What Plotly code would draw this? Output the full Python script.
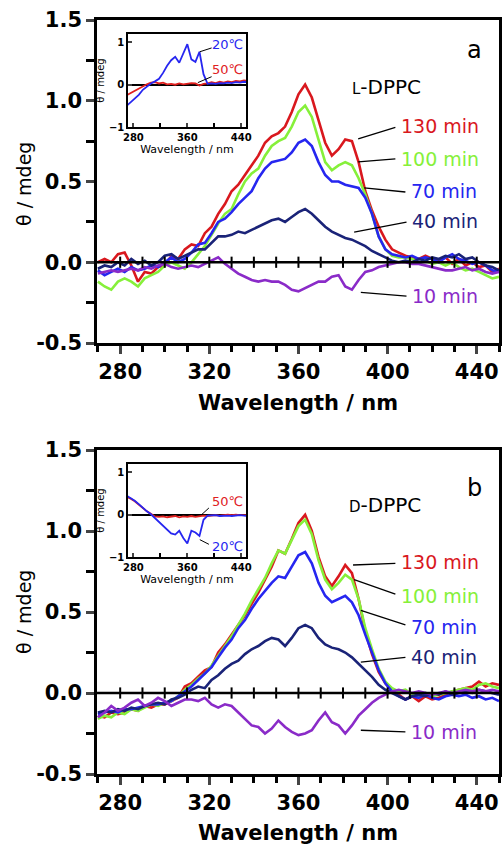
import plotly.graph_objects as go

# ---------------- data ----------------
WL = list(range(270, 451, 3))  # wavelength / nm (3 nm steps)

# Panel a (L-DPPC)
A_130 = [0.00, 0.02, 0.00, 0.05, 0.06, -0.02, -0.12, -0.06, -0.07, -0.03, -0.02, 0.04, 0.02, 0.08, 0.11, 0.10,
         0.18, 0.22, 0.30, 0.36, 0.44, 0.48, 0.54, 0.60, 0.66, 0.74, 0.78, 0.80, 0.84, 0.93, 1.04, 1.10, 1.02,
         0.88, 0.74, 0.66, 0.70, 0.76, 0.75, 0.62, 0.44, 0.32, 0.22, 0.14, 0.08, 0.06, 0.04, 0.03, 0.02, 0.04,
         0.02, 0.01, 0.03, -0.01, 0.02, -0.02, 0.00, -0.03, -0.02, -0.06, -0.04]
A_100 = [-0.12, -0.15, -0.17, -0.12, -0.10, -0.12, -0.15, -0.10, -0.08, -0.06, -0.02, 0.00, -0.02, -0.04, 0.00,
         0.05, 0.10, 0.17, 0.24, 0.30, 0.33, 0.42, 0.50, 0.55, 0.58, 0.66, 0.72, 0.75, 0.77, 0.84, 0.93, 0.97,
         0.90, 0.76, 0.62, 0.57, 0.60, 0.62, 0.60, 0.52, 0.42, 0.30, 0.16, 0.08, 0.04, 0.03, 0.03, 0.02, 0.00,
         0.01, -0.01, 0.00, -0.02, 0.00, -0.03, -0.05, -0.04, -0.06, -0.08, -0.10, -0.09]
A_70 = [-0.05, -0.08, -0.06, -0.04, -0.06, -0.03, -0.05, -0.04, -0.02, -0.03, 0.00, 0.03, 0.00, 0.02, 0.06,
        0.11, 0.12, 0.18, 0.25, 0.27, 0.31, 0.36, 0.40, 0.44, 0.52, 0.58, 0.62, 0.63, 0.64, 0.68, 0.74, 0.76,
        0.72, 0.62, 0.54, 0.50, 0.50, 0.48, 0.47, 0.46, 0.40, 0.30, 0.16, 0.08, 0.05, 0.04, 0.03, 0.04, 0.02,
        0.03, 0.02, 0.00, 0.03, 0.05, 0.02, 0.01, -0.01, 0.00, -0.02, -0.05, -0.06]
A_40 = [-0.04, -0.02, -0.03, 0.00, -0.02, 0.02, -0.01, 0.01, -0.02, 0.00, 0.04, 0.05, 0.02, 0.04, 0.06, 0.08,
        0.08, 0.12, 0.16, 0.16, 0.17, 0.19, 0.18, 0.20, 0.22, 0.24, 0.26, 0.27, 0.25, 0.28, 0.31, 0.33, 0.30,
        0.26, 0.22, 0.19, 0.17, 0.15, 0.14, 0.12, 0.10, 0.07, 0.05, 0.03, 0.01, 0.00, 0.01, 0.00, 0.02, 0.01,
        0.03, 0.02, 0.04, 0.03, 0.05, 0.02, 0.03, 0.00, -0.02, -0.03, -0.05]
A_10 = [-0.07, -0.06, -0.05, -0.06, -0.05, -0.04, -0.05, -0.03, -0.04, -0.02, -0.01, -0.03, -0.04, -0.03, -0.02,
        -0.03, -0.01, 0.01, 0.03, -0.01, -0.04, -0.07, -0.09, -0.11, -0.12, -0.11, -0.12, -0.12, -0.14, -0.17,
        -0.18, -0.16, -0.14, -0.12, -0.12, -0.09, -0.08, -0.15, -0.17, -0.11, -0.06, -0.05, -0.03, -0.02, -0.01,
        0.00, 0.00, -0.01, -0.01, -0.02, -0.03, -0.04, -0.05, -0.05, -0.04, -0.03, -0.05, -0.04, -0.06, -0.07, -0.06]

# Panel b (D-DPPC)
B_130 = [-0.14, -0.15, -0.12, -0.13, -0.12, -0.10, -0.11, -0.08, -0.09, -0.07, -0.07, -0.05, -0.03, 0.04, 0.06,
         0.10, 0.14, 0.16, 0.25, 0.30, 0.36, 0.42, 0.48, 0.55, 0.62, 0.70, 0.78, 0.88, 0.86, 0.95, 1.05, 1.10,
         1.00, 0.84, 0.72, 0.66, 0.72, 0.79, 0.74, 0.58, 0.38, 0.24, 0.13, 0.06, 0.01, -0.01, -0.04, -0.02, -0.05,
         -0.02, -0.04, -0.03, -0.01, 0.01, 0.02, 0.03, 0.04, 0.07, 0.04, 0.06, 0.05]
B_100 = [-0.16, -0.14, -0.15, -0.12, -0.13, -0.10, -0.11, -0.09, -0.07, -0.08, -0.06, -0.05, -0.02, 0.02, 0.05,
         0.09, 0.12, 0.17, 0.23, 0.29, 0.35, 0.42, 0.49, 0.57, 0.64, 0.71, 0.80, 0.88, 0.86, 0.94, 1.03, 1.07,
         0.98, 0.82, 0.70, 0.64, 0.68, 0.73, 0.70, 0.58, 0.40, 0.27, 0.15, 0.07, 0.03, 0.01, 0.02, -0.01, -0.02,
         0.00, -0.02, -0.01, 0.00, 0.01, 0.02, 0.03, 0.02, 0.05, 0.06, 0.04, 0.03]
B_70 = [-0.13, -0.12, -0.11, -0.12, -0.10, -0.10, -0.09, -0.08, -0.07, -0.07, -0.06, -0.05, -0.02, 0.01, 0.04,
        0.08, 0.12, 0.16, 0.22, 0.28, 0.33, 0.40, 0.45, 0.52, 0.58, 0.63, 0.68, 0.72, 0.71, 0.78, 0.85, 0.87,
        0.80, 0.68, 0.60, 0.56, 0.58, 0.60, 0.56, 0.48, 0.36, 0.25, 0.14, 0.06, 0.01, -0.02, -0.04, -0.02, -0.03,
        -0.01, -0.03, -0.04, -0.02, -0.01, -0.02, -0.01, -0.03, -0.02, -0.04, -0.03, -0.05]
B_40 = [-0.12, -0.11, -0.12, -0.10, -0.11, -0.09, -0.10, -0.08, -0.07, -0.06, -0.07, -0.04, -0.03, -0.01, 0.02,
        0.04, 0.03, 0.08, 0.11, 0.15, 0.18, 0.20, 0.24, 0.27, 0.29, 0.32, 0.34, 0.33, 0.29, 0.34, 0.40, 0.42,
        0.40, 0.34, 0.30, 0.28, 0.27, 0.25, 0.22, 0.18, 0.14, 0.10, 0.05, 0.02, 0.00, -0.02, -0.04, -0.02, -0.01,
        -0.02, 0.00, -0.01, 0.01, -0.01, 0.00, 0.01, 0.00, 0.02, 0.01, 0.00, -0.01]
B_10 = [-0.15, -0.12, -0.08, -0.11, -0.09, -0.06, -0.04, -0.08, -0.06, -0.03, -0.05, -0.08, -0.06, -0.04, -0.04,
        -0.05, -0.03, -0.07, -0.09, -0.07, -0.08, -0.12, -0.16, -0.20, -0.21, -0.25, -0.22, -0.17, -0.21, -0.24,
        -0.26, -0.25, -0.23, -0.17, -0.12, -0.18, -0.20, -0.25, -0.20, -0.14, -0.10, -0.06, -0.03, -0.01, 0.01,
        0.02, 0.01, 0.00, 0.01, 0.00, -0.01, 0.00, 0.01, 0.00, 0.01, 0.02, 0.01, 0.02, 0.01, 0.02, 0.01]

# Insets (6 nm steps)
IWL = list(range(270, 451, 6))
IA_20 = [-0.50, -0.42, -0.33, -0.24, -0.12, -0.04, 0.03, 0.08, 0.14, 0.28, 0.45, 0.58, 0.66, 0.52, 0.72, 0.96,
         0.60, 0.54, 0.78, 0.25, 0.02, 0.03, 0.02, 0.04, 0.03, 0.05, 0.04, 0.06, 0.05, 0.07, 0.06]
IA_50 = [-0.25, -0.20, -0.15, -0.08, -0.03, 0.01, 0.05, 0.06, 0.03, 0.05, 0.01, 0.02, 0.00, 0.03, 0.01, 0.02,
         0.04, 0.03, -0.02, 0.02, 0.03, 0.06, 0.04, 0.07, 0.05, 0.08, 0.06, 0.09, 0.08, 0.10, 0.09]
IB_20 = [0.45, 0.40, 0.33, 0.25, 0.16, 0.08, 0.01, -0.08, -0.16, -0.25, -0.36, -0.44, -0.47, -0.38, -0.55, -0.68,
         -0.38, -0.42, -0.50, -0.12, -0.02, -0.02, -0.01, -0.03, -0.02, -0.02, -0.03, -0.02, -0.01, -0.02, -0.03]
IB_50 = [0.42, 0.38, 0.32, 0.24, 0.15, 0.08, 0.02, -0.04, -0.05, -0.04, -0.06, -0.05, -0.03, -0.06, -0.04, -0.05,
         -0.03, -0.05, -0.04, -0.02, -0.03, -0.02, -0.01, -0.02, -0.01, 0.00, -0.01, 0.00, -0.01, 0.00, -0.01]

SERIES = ["130 min", "100 min", "70 min", "40 min", "10 min"]
COLORS = ["#d9181e", "#86f03a", "#2626f0", "#1a2378", "#8a2bc8"]
MAJOR_X = [280, 320, 360, 400, 440]
ZERO_TICKS = list(range(280, 441, 10))

# ---------------- figure ----------------
fig = go.Figure()
DJ = "DejaVu Sans"

def main_traces(vals, xa, ya):
    for name, v, c in zip(SERIES, vals, COLORS):
        fig.add_trace(go.Scatter(x=WL, y=v, mode="lines", line=dict(color=c, width=2.6),
                                 name=name, showlegend=False, xaxis=xa, yaxis=ya))
    fig.add_trace(go.Scatter(x=ZERO_TICKS, y=[0] * len(ZERO_TICKS), mode="markers",
                             marker=dict(symbol="line-ns", size=8, line=dict(color="black", width=2)),
                             showlegend=False, xaxis=xa, yaxis=ya, hoverinfo="skip"))

main_traces([A_130, A_100, A_70, A_40, A_10], "x", "y")
main_traces([B_130, B_100, B_70, B_40, B_10], "x3", "y3")

for (v20, v50, xa, ya) in [(IA_20, IA_50, "x2", "y2"), (IB_20, IB_50, "x4", "y4")]:
    fig.add_trace(go.Scatter(x=IWL, y=v50, mode="lines", line=dict(color="#e0201e", width=1.8),
                             showlegend=False, xaxis=xa, yaxis=ya))
    fig.add_trace(go.Scatter(x=IWL, y=v20, mode="lines", line=dict(color="#2626f0", width=1.8),
                             showlegend=False, xaxis=xa, yaxis=ya))

main_x = dict(range=[269.6, 450], tickvals=MAJOR_X, ticks="outside", ticklen=8, tickwidth=2.5, automargin=False,
              showline=True, linewidth=2.5, linecolor="black", mirror=True, showgrid=False, zeroline=False,
              tickfont=dict(family=DJ, size=21, color="black", weight="bold"),
              minor=dict(dtick=10, tick0=270, ticks="outside", ticklen=6, tickwidth=2.5, tickcolor="black"))
main_y = dict(range=[-0.5, 1.5], tickvals=[-0.5, 0, 0.5, 1.0, 1.5], ticktext=["-0.5", "0.0", "0.5", "1.0", "1.5"],
              ticks="outside", ticklen=8, tickwidth=2.5, showline=True, linewidth=2.5, linecolor="black",
              mirror=True, showgrid=False, zeroline=False, automargin=False,
              tickfont=dict(family=DJ, size=21, color="black", weight="bold"),
              minor=dict(dtick=0.25, tick0=0, ticks="outside", ticklen=8, tickwidth=2.5, tickcolor="black"))
ins_x = dict(range=[272, 447], tickvals=[280, 360, 440], ticks="inside", ticklen=4, tickwidth=1.5,
             showline=True, linewidth=1.5, linecolor="black", mirror=True, showgrid=False, zeroline=False,
             automargin=False,
             tickfont=dict(family=DJ, size=10, color="black", weight="bold"),
             minor=dict(dtick=40, tick0=280, ticks="inside", ticklen=4, tickwidth=1.5, tickcolor="black"),
             title=dict(text="Wavelength / nm", font=dict(family=DJ, size=11, color="black"), standoff=0))
ins_y = dict(range=[-1, 1.2], tickvals=[-1, 0, 1], ticks="inside", ticklen=4, tickwidth=1.5,
             showline=True, linewidth=1.5, linecolor="black", mirror=True, showgrid=False, automargin=False,
             zeroline=True, zerolinecolor="black", zerolinewidth=1.5,
             tickfont=dict(family=DJ, size=10, color="black", weight="bold"),
             title=dict(text="θ / mdeg", font=dict(family=DJ, size=10, color="black"), standoff=2))

XD = [97 / 502, 499 / 502]
IXD = [128 / 502, 246 / 502]
fig.update_layout(
    width=502, height=848, margin=dict(l=0, r=0, t=0, b=0, autoexpand=False),
    paper_bgcolor="white", plot_bgcolor="white", showlegend=False,
    xaxis=dict(domain=XD, anchor="y", **main_x),
    yaxis=dict(domain=[1 - 343 / 848, 1 - 20 / 848], anchor="x", **main_y),
    xaxis3=dict(domain=XD, anchor="y3", **main_x),
    yaxis3=dict(domain=[1 - 774 / 848, 1 - 450 / 848], anchor="x3", **main_y),
    xaxis2=dict(domain=IXD, anchor="y2", **ins_x),
    yaxis2=dict(domain=[1 - 127 / 848, 1 - 34 / 848], anchor="x2", **ins_y),
    xaxis4=dict(domain=IXD, anchor="y4", **ins_x),
    yaxis4=dict(domain=[1 - 557 / 848, 1 - 464 / 848], anchor="x4", **ins_y),
)

# zero lines on main panels
for xa, ya in [("x", "y"), ("x3", "y3")]:
    fig.add_shape(type="line", xref=f"{xa} domain", yref=ya, x0=0, x1=1, y0=0, y1=0,
                  line=dict(color="black", width=2.5), layer="above")

ann = []
# axis titles (bottom edge of text box given)
for yb in [417, 847]:
    ann.append(dict(text="<b>Wavelength / nm</b>", xref="paper", yref="paper", x=(XD[0] + XD[1]) / 2,
                    y=1 - yb / 848, xanchor="center", yanchor="bottom", showarrow=False,
                    font=dict(family=DJ, size=21, color="black")))
for yc in [184, 612]:
    ann.append(dict(text="θ / mdeg", xref="paper", yref="paper", x=24 / 502, y=1 - yc / 848, textangle=-90,
                    xanchor="center", yanchor="middle", showarrow=False,
                    font=dict(family=DJ, size=19, color="black")))
# panel letters and sample names
ann.append(dict(text="a", xref="paper", yref="paper", x=474 / 502, y=1 - 50 / 848, showarrow=False,
                xanchor="center", yanchor="middle", font=dict(family=DJ, size=24, color="black")))
ann.append(dict(text="b", xref="paper", yref="paper", x=474 / 502, y=1 - 488 / 848, showarrow=False,
                xanchor="center", yanchor="middle", font=dict(family=DJ, size=24, color="black")))
ann.append(dict(text="<span style='font-size:15px'>L</span>-DPPC", xref="paper", yref="paper", x=423 / 502,
                y=1 - 73 / 848, xanchor="right", showarrow=False, font=dict(family=DJ, size=20, color="black")))
ann.append(dict(text="<span style='font-size:15px'>D</span>-DPPC", xref="paper", yref="paper", x=423 / 502,
                y=1 - 505 / 848, xanchor="right", showarrow=False, font=dict(family=DJ, size=20, color="black")))

# series labels and leader lines
LAB_A = [(405.2, 0.845), (405.2, 0.64), (409.7, 0.44), (410.0, 0.255), (410.0, -0.21)]
LEAD_A = [((386.8, 0.764), (403.5, 0.835)), ((386.8, 0.621), (403.5, 0.64)), ((389.5, 0.46), (408.0, 0.435)),
          ((385.0, 0.186), (408.5, 0.248)), ((388.0, -0.186), (408.5, -0.21))]
LAB_B = [(405.2, 0.81), (405.2, 0.60), (409.7, 0.41), (409.7, 0.22), (409.7, -0.24)]
LEAD_B = [((384.5, 0.79), (403.5, 0.80)), ((385.0, 0.70), (403.5, 0.61)), ((388.0, 0.51), (408.0, 0.42)),
          ((388.0, 0.19), (408.0, 0.22)), ((388.0, -0.23), (408.0, -0.24))]
for labs, leads, xa, ya in [(LAB_A, LEAD_A, "x", "y"), (LAB_B, LEAD_B, "x3", "y3")]:
    for name, c, (lx, ly), (p0, p1) in zip(SERIES, COLORS, labs, leads):
        ann.append(dict(text=name, xref=xa, yref=ya, x=lx, y=ly, xanchor="left", showarrow=False,
                        font=dict(family=DJ, size=19, color=c)))
        fig.add_shape(type="line", xref=xa, yref=ya, x0=p0[0], y0=p0[1], x1=p1[0], y1=p1[1],
                      line=dict(color="black", width=1.3))

# inset labels
INS = [("x2", "y2", [("20℃", "#2626f0", (420, 0.94), ((378.5, 0.78), (396, 0.87))),
                     ("50℃", "#e0201e", (420, 0.35), ((375.6, 0.05), (396, 0.19)))]),
       ("x4", "y4", [("50℃", "#e0201e", (420, 0.32), ((381, 0.0), (392, 0.16))),
                     ("20℃", "#2626f0", (420, -0.75), ((378.5, -0.59), (392, -0.70)))])]
for xa, ya, items in INS:
    for t, c, (tx, ty), (p0, p1) in items:
        ann.append(dict(text=t, xref=xa, yref=ya, x=tx, y=ty, showarrow=False,
                        font=dict(family=DJ, size=13, color=c)))
        fig.add_shape(type="line", xref=xa, yref=ya, x0=p0[0], y0=p0[1], x1=p1[0], y1=p1[1],
                      line=dict(color="black", width=1))

fig.update_layout(annotations=ann)
fig.write_html("out.html", config={"displayModeBar": False},
               post_script="document.body.style.margin='0';document.body.style.overflow='hidden';")
